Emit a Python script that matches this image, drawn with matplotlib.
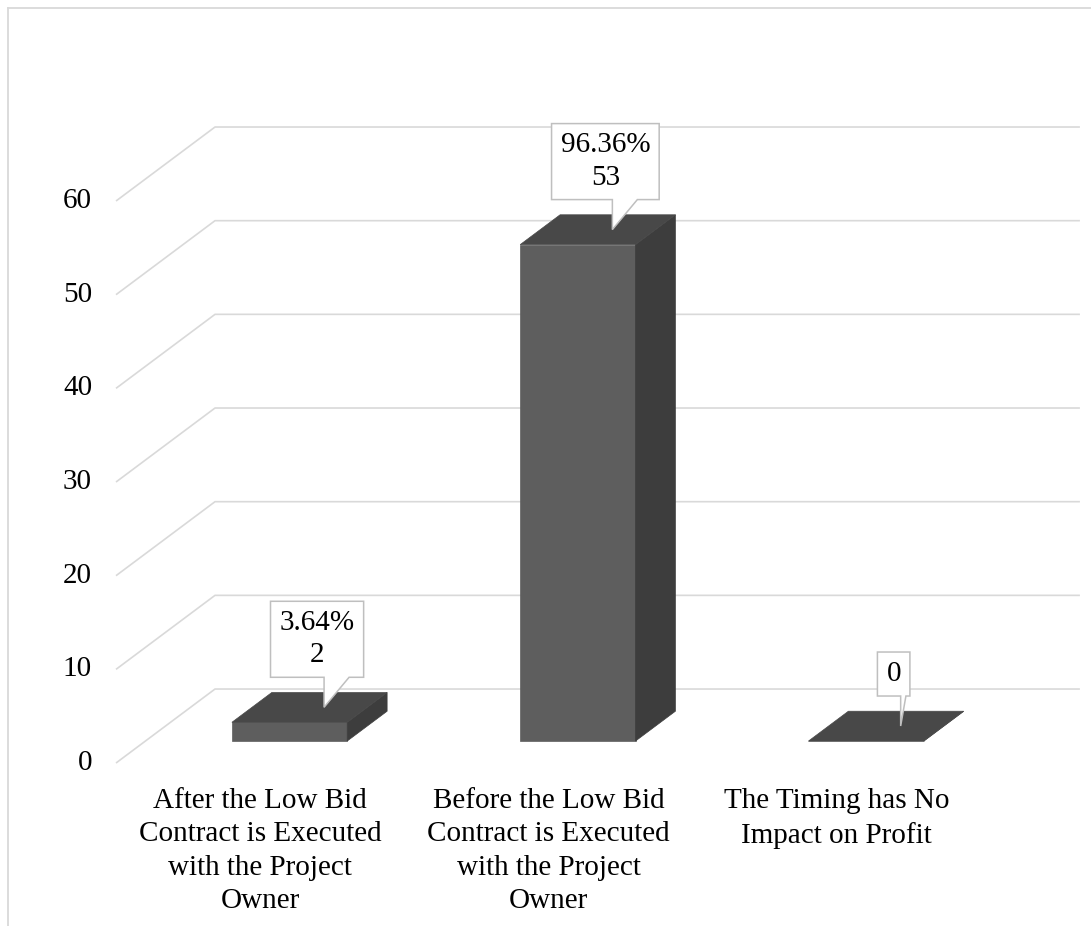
import matplotlib
matplotlib.use("Agg")
import matplotlib.pyplot as plt
from matplotlib.lines import Line2D
from matplotlib.patches import Polygon
from matplotlib.transforms import ScaledTranslation

# data
categories = [
    "After the Low Bid\nContract is Executed\nwith the Project\nOwner",
    "Before the Low Bid\nContract is Executed\nwith the Project\nOwner",
    "The Timing has No\nImpact on Profit",
]
counts = [2, 53, 0]
percent_labels = ["3.64%", "96.36%", ""]
y_ticks = [0, 10, 20, 30, 40, 50, 60]

# look
FONT = "Liberation Serif"
FS = 21
GRID = "#d9d9d9"
FRONT = "#5e5e5e"
TOP = "#484848"
SIDE = "#3d3d3d"
EDGE = "#bfbfbf"

# oblique 3d: one full depth step in data units
DEPTH_X = 0.3434
DEPTH_Y = 7.90
BAR_W = 0.4
D0, D1 = 0.297, 0.70
PX = 0.01  # one pixel in inches at dpi 100


def proj(x, v, d):
    return x + d * DEPTH_X, v + d * DEPTH_Y


fig = plt.figure(figsize=(10.91, 9.26), dpi=100)
ax = fig.add_axes([0, 0, 1, 1])
ax.set_xlim(-0.9024, 2.8819)
ax.set_ylim(-17.40, 81.46)
ax.axis("off")

# chart border (runs off the right and bottom edge)
fig.add_artist(Line2D([8 / 1091, 1], [918 / 926, 918 / 926], color=GRID, lw=1.3))
fig.add_artist(Line2D([8 / 1091, 8 / 1091], [0, 918 / 926], color=GRID, lw=1.3))

# side wall + back wall gridlines
for t in y_ticks:
    xs, ys = zip(proj(-0.5, t, 0), proj(-0.5, t, 1), proj(2.5, t, 1))
    ax.plot(xs, ys, color=GRID, lw=1.2, solid_capstyle="butt", zorder=1)
    ax.annotate(str(t), xy=(-0.5, t), xytext=(-24, 0), textcoords="offset pixels",
                ha="right", va="center", fontsize=FS, family=FONT)

# bars
for i, v in enumerate(counts):
    x0, x1 = i - BAR_W / 2, i + BAR_W / 2
    front = [proj(x0, 0, D0), proj(x1, 0, D0), proj(x1, v, D0), proj(x0, v, D0)]
    side = [proj(x1, 0, D0), proj(x1, 0, D1), proj(x1, v, D1), proj(x1, v, D0)]
    top = [proj(x0, v, D0), proj(x1, v, D0), proj(x1, v, D1), proj(x0, v, D1)]
    for poly, col in ((front, FRONT), (side, SIDE), (top, TOP)):
        ax.fill(*zip(*poly), color=col, lw=0.5, zorder=3)

# category labels
for i, lab in enumerate(categories):
    ax.annotate(lab, xy=(i, 0), xytext=(0, -25), textcoords="offset pixels",
                ha="center", va="top", fontsize=FS, family=FONT, linespacing=1.37)

# data label callouts
renderer = fig.canvas.get_renderer()
for i, v in enumerate(counts):
    tip = proj(i + 0.05, v, 0.5)
    base = fig.dpi_scale_trans + ScaledTranslation(tip[0], tip[1], ax.transData)
    txt = str(v) if not percent_labels[i] else percent_labels[i] + "\n" + str(v)
    n = txt.count("\n") + 1
    gap, h = 30, 32 * n + 12
    t = ax.text(-7 * PX, (gap + h / 2) * PX, txt, transform=base, ha="center",
                va="center", fontsize=FS, family=FONT, linespacing=1.32, zorder=6)
    w = t.get_window_extent(renderer).width + 18
    left, right = -7 - w / 2, -7 + w / 2
    pw = min(25, right - 4)
    verts = [(left, gap), (0, gap), (0, 0), (pw, gap), (right, gap),
             (right, gap + h), (left, gap + h)]
    ax.add_patch(Polygon([(a * PX, b * PX) for a, b in verts], closed=True,
                         transform=base, facecolor="white", edgecolor=EDGE,
                         lw=1.1, zorder=5))

fig.savefig("out.png", dpi=100, facecolor="white")
